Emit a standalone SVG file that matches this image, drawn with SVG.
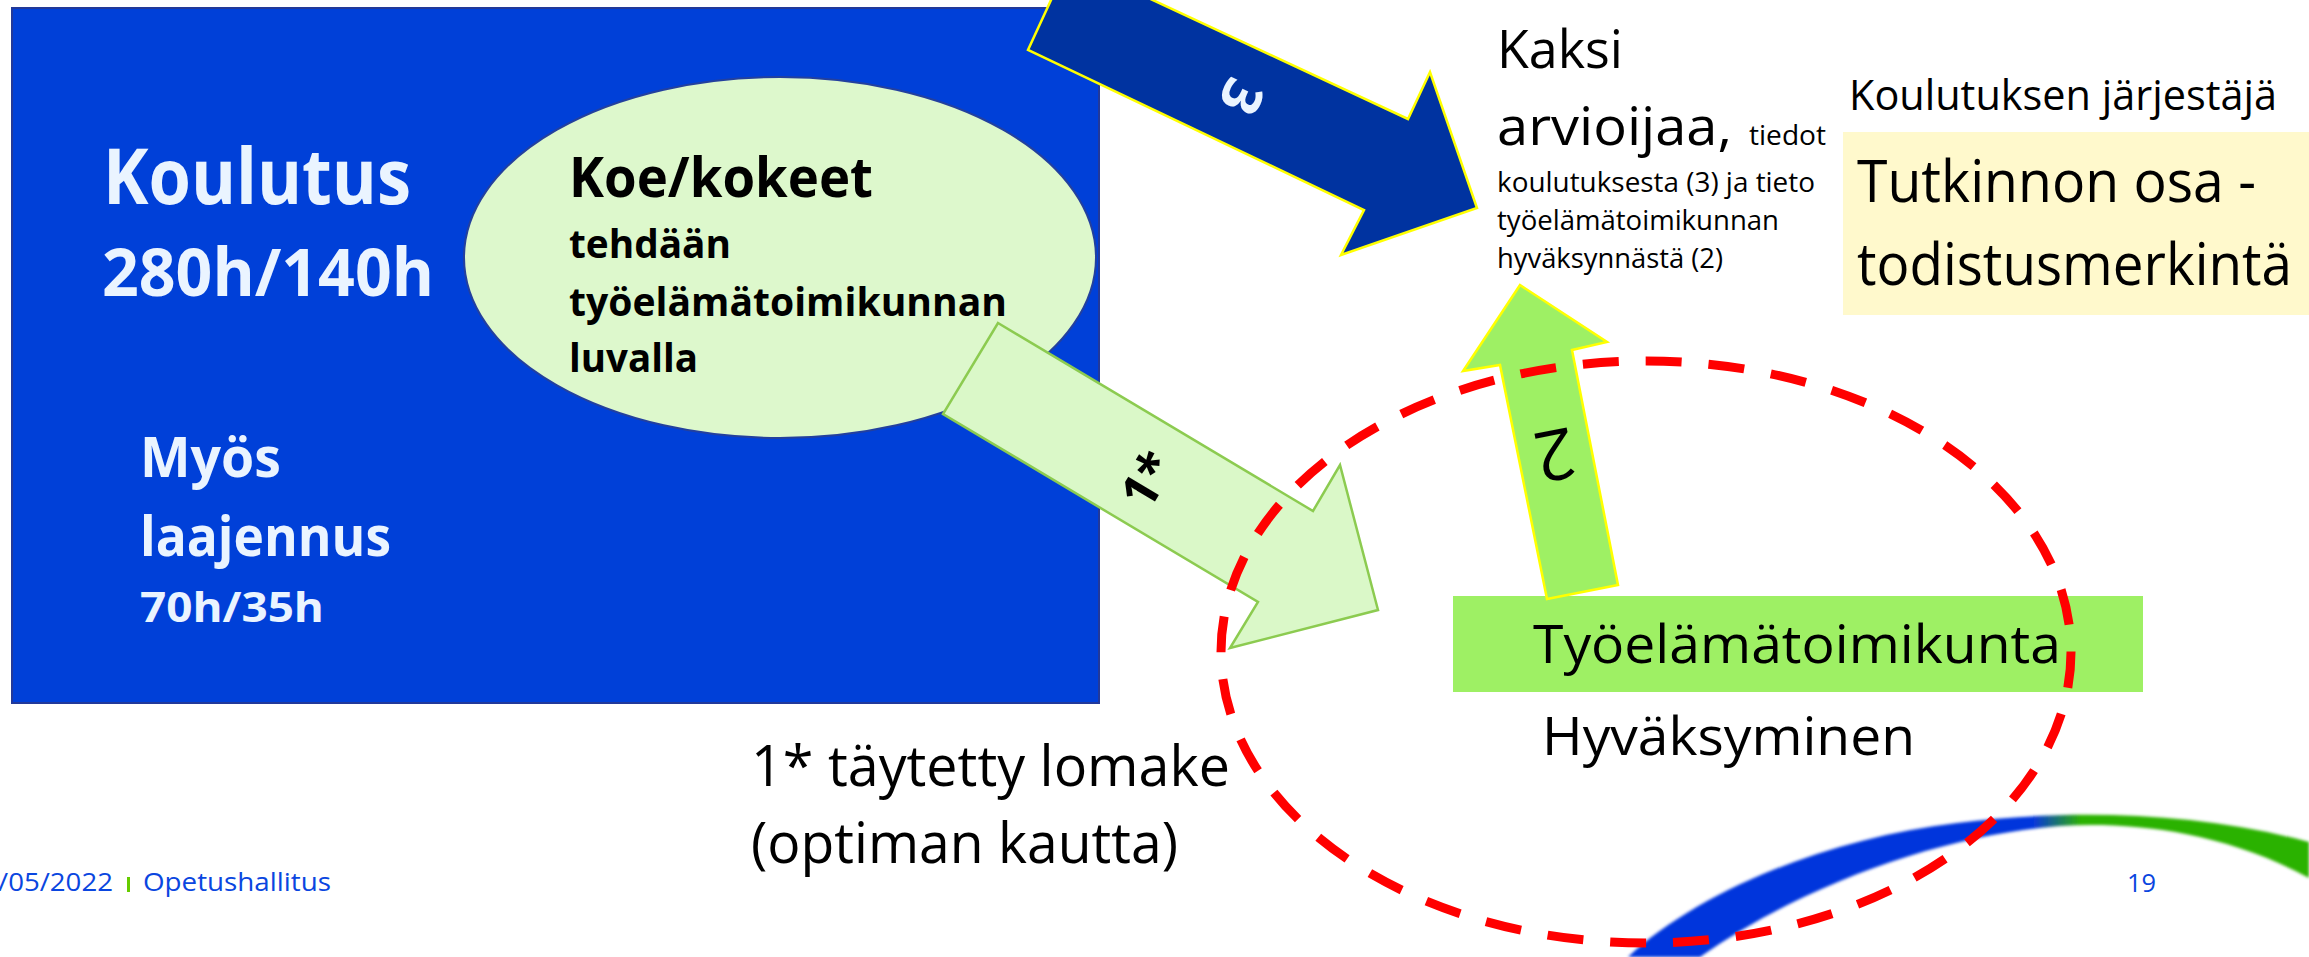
<svg xmlns="http://www.w3.org/2000/svg" width="2309" height="957" viewBox="0 0 2309 957">
<defs>
<style>
text{font-family:"Open Sans","Noto Sans","Liberation Sans",sans-serif}
.wb{fill:#EAF4FF;font-weight:700}
.kb{fill:#000;font-weight:700}
.k{fill:#000;font-weight:400}
.ft{fill:#0A46E0;font-weight:400;font-size:25px}
</style>
<linearGradient id="sw" x1="1620" y1="0" x2="2309" y2="0" gradientUnits="userSpaceOnUse">
<stop offset="0" stop-color="#0636DC"/>
<stop offset="0.6" stop-color="#0636DC"/>
<stop offset="0.67" stop-color="#2CB200"/>
<stop offset="1" stop-color="#2CB200"/>
</linearGradient>
<filter id="soft" x="-5%" y="-20%" width="110%" height="140%"><feGaussianBlur stdDeviation="1.6"/></filter>
</defs>
<rect width="2309" height="957" fill="#fff"/>

<g id="swoosh">
<path d="M1628,957 C1700,890 1830,838 1957,823 C2060,810 2190,810 2309,842 L2309,878 C2220,830 2130,822 2060,826 C1950,834 1810,880 1700,957 Z" fill="url(#sw)" filter="url(#soft)"/>
</g>

<g id="koulutus">
<rect x="12" y="8" width="1087" height="695" fill="#0040D8" stroke="#22399A" stroke-width="2"/>
<text class="wb" x="103" y="204" font-size="77" textLength="308" lengthAdjust="spacingAndGlyphs">Koulutus</text>
<text class="wb" x="102" y="296" font-size="67" textLength="332" lengthAdjust="spacingAndGlyphs">280h/140h</text>
<text class="wb" x="140" y="477" font-size="56" textLength="141" lengthAdjust="spacingAndGlyphs">Myös</text>
<text class="wb" x="140" y="556" font-size="56" textLength="251" lengthAdjust="spacingAndGlyphs">laajennus</text>
<text class="wb" x="140" y="622" font-size="42" textLength="184" lengthAdjust="spacingAndGlyphs">70h/35h</text>
</g>

<g id="koe">
<ellipse cx="780" cy="257.5" rx="316" ry="180.5" fill="#DDF8CC" stroke="#23409E" stroke-width="2"/>
<text class="kb" x="569" y="197" font-size="55" textLength="304" lengthAdjust="spacingAndGlyphs">Koe/kokeet</text>
<text class="kb" x="569" y="258" font-size="39" textLength="162" lengthAdjust="spacingAndGlyphs">tehdään</text>
<text class="kb" x="569" y="316" font-size="39" textLength="438" lengthAdjust="spacingAndGlyphs">työelämätoimikunnan</text>
<text class="kb" x="569" y="372" font-size="39" textLength="129" lengthAdjust="spacingAndGlyphs">luvalla</text>
</g>

<g id="tyoelamatoimikunta">
<rect x="1453" y="596" width="690" height="96" fill="#9EF064"/>
<text class="k" x="1533" y="663" font-size="53" textLength="528" lengthAdjust="spacingAndGlyphs">Työelämätoimikunta</text>
<text class="k" x="1542" y="755" font-size="53" textLength="373" lengthAdjust="spacingAndGlyphs">Hyväksyminen</text>
</g>

<g id="arvioijat">
<text class="k" x="1497" y="68" font-size="53" textLength="126" lengthAdjust="spacingAndGlyphs">Kaksi</text>
<text class="k" x="1497" y="145" font-size="53" textLength="235" lengthAdjust="spacingAndGlyphs">arvioijaa,</text>
<text class="k" x="1749" y="145" font-size="27" textLength="77" lengthAdjust="spacingAndGlyphs">tiedot</text>
<text class="k" x="1497" y="192" font-size="27" textLength="318" lengthAdjust="spacingAndGlyphs">koulutuksesta (3) ja tieto</text>
<text class="k" x="1497" y="230" font-size="27" textLength="282" lengthAdjust="spacingAndGlyphs">työelämätoimikunnan</text>
<text class="k" x="1497" y="268" font-size="27" textLength="226" lengthAdjust="spacingAndGlyphs">hyväksynnästä (2)</text>
</g>

<g id="jarjestaja">
<text class="k" x="1849" y="110" font-size="42" textLength="428" lengthAdjust="spacingAndGlyphs">Koulutuksen järjestäjä</text>
<rect x="1843" y="132" width="470" height="183" fill="#FFF9CC"/>
<text class="k" x="1857" y="202" font-size="58" textLength="399" lengthAdjust="spacingAndGlyphs">Tutkinnon osa -</text>
<text class="k" x="1857" y="285" font-size="58" textLength="435" lengthAdjust="spacingAndGlyphs">todistusmerkintä</text>
</g>

<g id="lomake">
<text class="k" x="751" y="786" font-size="56" textLength="479" lengthAdjust="spacingAndGlyphs">1* täytetty lomake</text>
<text class="k" x="751" y="863" font-size="56" textLength="427" lengthAdjust="spacingAndGlyphs">(optiman kautta)</text>
</g>

<g id="connectors">
<g id="arrow1">
<polygon points="998,323 1313,511 1340,465 1378,610 1230,648 1258,602 943,414" fill="#DAF8C8" stroke="#8CCB50" stroke-width="2.5" stroke-linejoin="miter"/>
<text class="kb" x="1148" y="497" font-size="50" text-anchor="middle" transform="rotate(-59 1148 480)">1*</text>
</g>
<g id="arrow3">
<polygon points="1069,-39 1408,119 1430,72 1477,208 1341,255 1364,210 1028,50" fill="#0033A0" stroke="#FFFF00" stroke-width="2.5"/>
<text class="wb" x="1242" y="117" font-size="55" text-anchor="middle" fill="#fff" transform="rotate(115 1242 97)">3</text>
</g>
<g id="arrow2">
<polygon points="1520,285 1607,342 1572,350 1618,585 1547,599 1500,365 1463,371" fill="#9EF064" stroke="#FFFF00" stroke-width="2.5"/>
<text class="k" x="1555" y="480" font-size="70" text-anchor="middle" transform="rotate(169 1555 455)">2</text>
</g>
</g>

<g id="red-ellipse">
<ellipse cx="1646" cy="652" rx="425" ry="291" fill="none" stroke="#FF0000" stroke-width="9" stroke-dasharray="36 27"/>
</g>

<g id="footer">
<text class="ft" x="-2" y="891" textLength="115" lengthAdjust="spacingAndGlyphs">/05/2022</text>
<rect x="127" y="877" width="3" height="15" fill="#66CC00"/>
<text class="ft" x="143" y="891" textLength="188" lengthAdjust="spacingAndGlyphs">Opetushallitus</text>
<text class="ft" x="2127" y="892" textLength="29" lengthAdjust="spacingAndGlyphs">19</text>
</g>
</svg>
